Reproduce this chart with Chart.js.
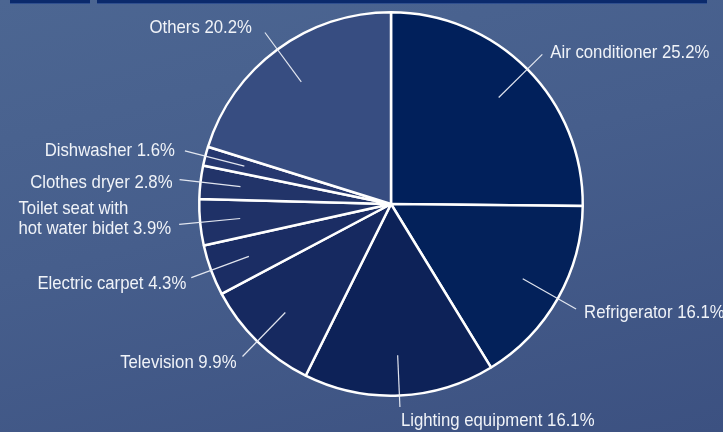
<!DOCTYPE html>
<html>
<head>
<meta charset="utf-8">
<script src="https://cdn.jsdelivr.net/npm/chart.js@4"></script>
<style>
  html, body { margin: 0; padding: 0; }
  body {
    width: 723px; height: 432px; overflow: hidden; position: relative;
    background: linear-gradient(165deg, #4c6692 0%, #465e8c 45%, #3c5181 100%);
  }
  .bar { position: absolute; top: 0; height: 3px; background: #0b2a6c; border-bottom: 1px solid #2f4f8f; }
  #wrap { position: absolute; left: 0; top: 0; width: 723px; height: 432px; }
</style>
</head>
<body>
<div class="bar" style="left:10px;width:80px"></div>
<div class="bar" style="left:97px;width:610px"></div>
<div id="wrap"><canvas id="c" width="723" height="432"></canvas></div>
<script>
// Household electricity consumption by appliance (%)
const categories = [
  'Air conditioner', 'Refrigerator', 'Lighting equipment', 'Television',
  'Electric carpet', 'Toilet seat with\nhot water bidet', 'Clothes dryer',
  'Dishwasher', 'Others'
];
const shares = [25.2, 16.1, 16.1, 9.9, 4.3, 3.9, 2.8, 1.6, 20.2];

// slice fills, darkest on the right
const sliceColors = [
  '#01205b', '#03215a', '#0d2258', '#162960',
  '#1b2d64', '#1f3167', '#223469', '#26386f', '#374d81'
];

// label nudges (dx, dy) relative to the outer end of each leader line
const labelNudge = [
  [8, -1], [8, 4], [1, 14], [-6, 6], [-5, 6], [-8, 5], [-7, 3], [-10, 0], [-13, -5]
];
// how far past the rim each leader line reaches (fraction of radius)
const leaderReach = [1.11, 1.11, 1.06, 1.11, 1.11, 1.11, 1.11, 1.11, 1.11];

const SX = 0.905; // horizontal condensing of label text

const leaderLabels = {
  id: 'leaderLabels',
  afterDatasetsDraw(chart) {
    const ctx = chart.ctx;
    const meta = chart.getDatasetMeta(0);
    ctx.save();
    meta.data.forEach((arc, i) => {
      const p = arc.getProps(['x', 'y', 'startAngle', 'endAngle', 'outerRadius'], true);
      const mid = (p.startAngle + p.endAngle) / 2;
      const R = p.outerRadius;
      const x1 = p.x + Math.cos(mid) * R * 0.79, y1 = p.y + Math.sin(mid) * R * 0.79;
      const x2 = p.x + Math.cos(mid) * R * leaderReach[i], y2 = p.y + Math.sin(mid) * R * leaderReach[i];
      ctx.strokeStyle = 'rgba(235,238,245,0.95)';
      ctx.lineWidth = 1.2;
      ctx.beginPath();
      ctx.moveTo(x1, y1);
      ctx.lineTo(x2, y2);
      ctx.stroke();

      const below = Math.sin(mid) > 0.95;
      const rightSide = Math.cos(mid) > 0.05;
      const lines = (categories[i] + ' ' + shares[i].toFixed(1) + '%').split('\n');
      const [dx, dy] = labelNudge[i];
      const tx = x2 + dx, ty = y2 + dy;
      ctx.fillStyle = '#f0f3f8';
      ctx.font = '18.5px "Liberation Sans", Arial, sans-serif';
      ctx.textBaseline = 'middle';
      ctx.textAlign = 'left';
      const maxW = Math.max(...lines.map(l => ctx.measureText(l).width)) * SX;
      const left = (rightSide || below) ? tx : tx - maxW;
      lines.forEach((ln, k) => {
        const ly = ty - (lines.length - 1 - k) * 20;
        ctx.save();
        ctx.translate(left, ly);
        ctx.scale(SX, 1);
        ctx.fillText(ln, 0, 0);
        ctx.restore();
      });
    });
    ctx.restore();
  }
};

new Chart(document.getElementById('c'), {
  type: 'pie',
  data: {
    labels: categories,
    datasets: [{
      data: shares,
      backgroundColor: sliceColors,
      borderColor: '#ffffff',
      borderWidth: 2.5
    }]
  },
  options: {
    responsive: false,
    animation: false,
    layout: { padding: { left: 59, right: 0, top: 11, bottom: 35 } },
    plugins: { legend: { display: false }, tooltip: { enabled: false } }
  },
  plugins: [leaderLabels]
});
</script>
</body>
</html>
